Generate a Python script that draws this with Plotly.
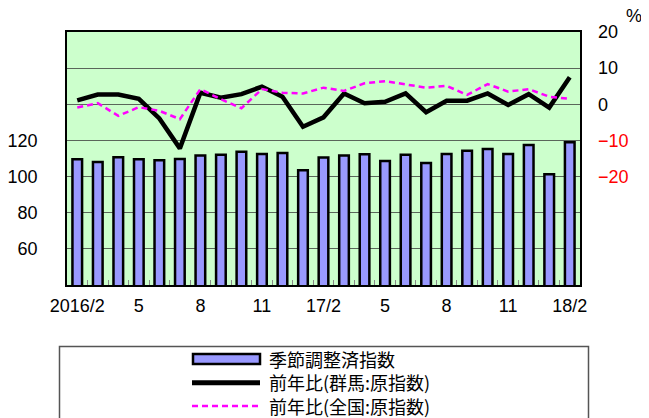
import plotly.graph_objects as go

months = ["2016/2", "2016/3", "2016/4", "2016/5", "2016/6", "2016/7", "2016/8", "2016/9",
          "2016/10", "2016/11", "2016/12", "2017/1", "2017/2", "2017/3", "2017/4", "2017/5",
          "2017/6", "2017/7", "2017/8", "2017/9", "2017/10", "2017/11", "2017/12", "2018/1", "2018/2"]
tick_labels = ["2016/2", "5", "8", "11", "17/2", "5", "8", "11", "18/2"]

index_sa = [109.6, 108.1, 110.7, 109.6, 109.0, 109.7, 111.6, 112.1, 113.8, 112.5, 113.0, 103.5,
            110.5, 111.6, 112.3, 108.6, 112.1, 107.5, 112.5, 114.3, 115.3, 112.5, 117.5, 101.3, 119.0]
yoy_gunma = [1.1, 2.7, 2.7, 1.5, -3.9, -12.2, 3.2, 1.8, 2.8, 4.9, 2.1, -6.2,
             -3.6, 3.0, 0.3, 0.7, 3.0, -2.2, 1.0, 1.0, 3.0, -0.2, 2.8, -0.9, 7.5]
yoy_japan = [-0.9, 0.3, -3.2, -0.8, -1.8, -4.1, 4.2, 1.4, -1.1, 4.2, 3.2, 3.0,
             4.6, 3.7, 5.8, 6.4, 5.5, 4.6, 5.1, 2.6, 5.6, 3.5, 4.2, 2.1, 1.5]

names = ["季節調整済指数", "前年比(群馬:原指数)", "前年比(全国:原指数)"]

# page has an 8px body margin; figure coordinates are page coordinates minus 8
OFF = 8
W, H = 649 - OFF, 418 - OFF
ML, MT = 67 - OFF, 32 - OFF
MR = W - (580 - OFF)
MB = H - (285 - OFF)
PW, PH = W - ML - MR, H - MT - MB

def px(x):
    return (x - OFF - ML) / PW

def py(y):
    return (H - MB - (y - OFF)) / PH

x = list(range(len(months)))

fig = go.Figure()
fig.add_trace(go.Bar(x=x, y=index_sa, name=names[0], width=0.47,
                     marker=dict(color="#9999FF", line=dict(color="black", width=2.5)),
                     yaxis="y", showlegend=False))
fig.add_trace(go.Scatter(x=x, y=yoy_gunma, name=names[1], mode="lines",
                         line=dict(color="black", width=4.5), yaxis="y2", showlegend=False))
fig.add_trace(go.Scatter(x=x, y=yoy_japan, name=names[2], mode="lines",
                         line=dict(color="#FF00FF", width=2.5, dash="6px,4px"),
                         yaxis="y2", showlegend=False))

font = "Liberation Sans, Arial, sans-serif"
cjk = "Noto Sans CJK JP, sans-serif"

left_vals = [40, 60, 80, 100, 120, 140, 160, 180]
left_text = ["", "60", "80", "100", "120", "", "", ""]
right_vals = [-20, -10, 0, 10, 20]
right_text = ['<span style="color:#FF0000">−20</span>', '<span style="color:#FF0000">−10</span>',
              "0", "10", "20"]

fig.update_layout(
    width=W, height=H, autosize=False,
    margin=dict(l=ML, r=MR, t=MT, b=MB, pad=0, autoexpand=False),
    paper_bgcolor="white", plot_bgcolor="#CCFFCC",
    bargap=0.5,
    xaxis=dict(range=[-0.5, len(months) - 0.5], tickmode="array", automargin=False,
               tickvals=list(range(0, len(months), 3)), ticktext=tick_labels,
               ticks="", showgrid=False, zeroline=False,
               showline=True, linecolor="black", linewidth=1.5, mirror=True,
               tickfont=dict(family=font, size=18, color="black"),
               ticklabelstandoff=4,
               minor=dict(tickmode="array", tickvals=[i + 0.5 for i in range(len(months) - 1)],
                          ticks="inside", ticklen=5, tickcolor="#888888", tickwidth=1)),
    yaxis=dict(range=[40, 180], tickmode="array", tickvals=left_vals, ticktext=left_text,
               automargin=False,
               showgrid=True, gridcolor="#5a665a", gridwidth=1.2, zeroline=False,
               showline=True, linecolor="black", linewidth=1.5, mirror=True, ticks="",
               tickfont=dict(family=font, size=18, color="black"), ticklabelstandoff=24),
    yaxis2=dict(range=[-50, 20], overlaying="y", side="right", tickmode="array",
                automargin=False,
                tickvals=right_vals, ticktext=right_text, showgrid=False, zeroline=False,
                showline=False, ticks="",
                tickfont=dict(family=font, size=18, color="black"), ticklabelstandoff=17),
)

# "%" unit label
fig.add_annotation(text="%", xref="paper", yref="paper", x=px(625), y=py(5),
                   xanchor="left", yanchor="top", borderpad=0,
                   showarrow=False, font=dict(family=font, size=18, color="black"))

# Legend box and entries
shapes = [
    dict(type="rect", xref="paper", yref="paper", x0=px(59.5), x1=px(588.5), y0=py(440), y1=py(346.5),
         line=dict(color="#555555", width=1.5), fillcolor="rgba(0,0,0,0)"),
    dict(type="rect", xref="paper", yref="paper", x0=px(193), x1=px(260), y0=py(364), y1=py(354),
         line=dict(color="black", width=2.5), fillcolor="#9999FF"),
    dict(type="line", xref="paper", yref="paper", x0=px(192), x1=px(260), y0=py(382.7), y1=py(382.7),
         line=dict(color="black", width=5)),
    dict(type="line", xref="paper", yref="paper", x0=px(192), x1=px(260), y0=py(406), y1=py(406),
         line=dict(color="#FF00FF", width=2.5, dash="6px,4px")),
]
fig.update_layout(shapes=shapes)
fig.add_annotation(text="<br>".join(names), xref="paper", yref="paper", x=px(267), y=py(382.5),
                   xanchor="left", yanchor="middle", align="left", showarrow=False,
                   font=dict(family=cjk, size=18, color="black"))

fig.write_html("out.html")
